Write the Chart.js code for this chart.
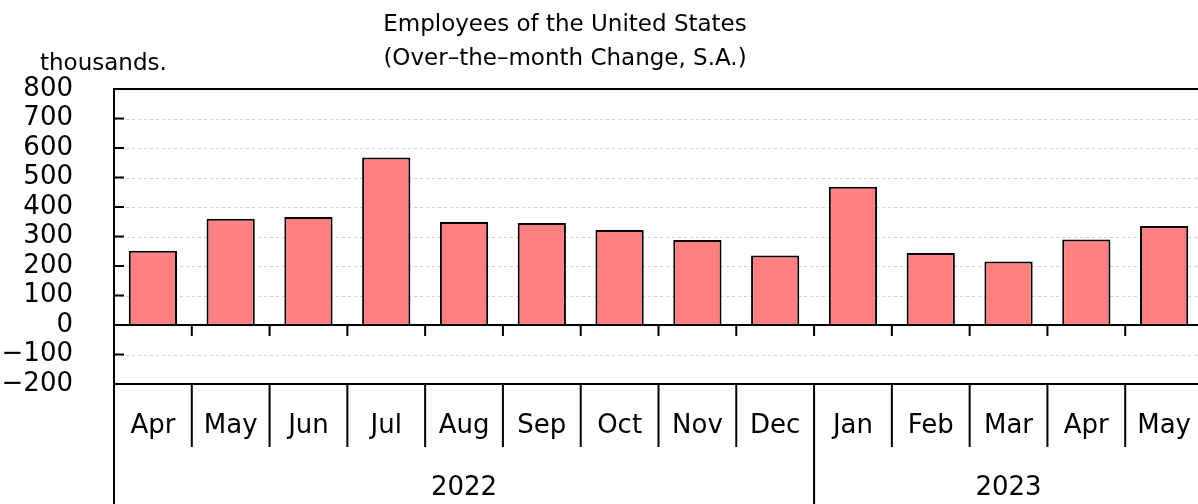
<!DOCTYPE html>
<html>
<head>
<meta charset="utf-8">
<script src="https://cdn.jsdelivr.net/npm/chart.js@4/dist/chart.umd.min.js"></script>
<style>
html,body{margin:0;padding:0;background:#fff;overflow:hidden;}
#wrap{width:1204px;height:504px;position:relative;}
</style>
</head>
<body>
<div id="wrap"><canvas id="c"></canvas></div>
<script>
const months = ["Apr","May","Jun","Jul","Aug","Sep","Oct","Nov","Dec","Jan","Feb","Mar","Apr","May"];
const years = ["2022","2022","2022","2022","2022","2022","2022","2022","2022","2023","2023","2023","2023","2023"];
const changes = [252, 360, 366, 568, 349, 346, 322, 288, 236, 469, 244, 215, 290, 336];
const yTicks = [-200, -100, 0, 100, 200, 300, 400, 500, 600, 700, 800];
const titleLines = ["Employees of the United States", "(Over\u2013the\u2013month Change, S.A.)"];
const unitLabel = "thousands.";

const FONT = '"DejaVu Sans", sans-serif';

const decor = {
  id: 'decor',
  beforeDatasetsDraw(chart) {
    const {ctx, chartArea: a, scales: {y}} = chart;
    ctx.save();
    ctx.strokeStyle = '#cfcfcf';
    ctx.lineWidth = 1;
    ctx.setLineDash([3, 3]);
    yTicks.forEach(v => {
      if (v === 0 || v === yTicks[0] || v === yTicks[yTicks.length - 1]) return;
      const py = Math.round(y.getPixelForValue(v)) + 0.5;
      ctx.beginPath(); ctx.moveTo(a.left, py); ctx.lineTo(a.right, py); ctx.stroke();
    });
    ctx.restore();
  },
  afterDatasetsDraw(chart) {
    const {ctx, chartArea: a, scales: {x, y}} = chart;
    const H = chart.height;
    ctx.save();
    ctx.strokeStyle = '#000';
    ctx.lineWidth = 2;
    ctx.setLineDash([]);
    // zero line
    const y0 = y.getPixelForValue(0);
    ctx.beginPath(); ctx.moveTo(a.left, y0); ctx.lineTo(a.right + 2, y0); ctx.stroke();
    // frame
    ctx.beginPath();
    ctx.moveTo(a.left, H); ctx.lineTo(a.left, a.top); ctx.lineTo(a.right + 2, a.top);
    ctx.moveTo(a.left, a.bottom); ctx.lineTo(a.right + 2, a.bottom);
    ctx.moveTo(a.right, a.top); ctx.lineTo(a.right, a.bottom);
    ctx.stroke();
    // y inner ticks
    yTicks.forEach(v => {
      if (v === yTicks[0] || v === yTicks[yTicks.length - 1]) return;
      const py = y.getPixelForValue(v);
      ctx.beginPath(); ctx.moveTo(a.left, py); ctx.lineTo(a.left + 10, py); ctx.stroke();
    });
    // category boundaries
    for (let i = 0; i < months.length - 1; i++) {
      const bx = (x.getPixelForValue(i) + x.getPixelForValue(i + 1)) / 2;
      ctx.beginPath(); ctx.moveTo(bx, y0); ctx.lineTo(bx, y0 + 11); ctx.stroke();
      const yearBreak = years[i] !== years[i + 1];
      ctx.beginPath(); ctx.moveTo(bx, a.bottom); ctx.lineTo(bx, yearBreak ? H : a.bottom + 63); ctx.stroke();
    }
    ctx.fillStyle = '#000';
    ctx.textAlign = 'center';
    ctx.textBaseline = 'middle';
    // month labels
    ctx.font = '26px ' + FONT;
    months.forEach((m, i) => ctx.fillText(m, x.getPixelForValue(i), 426));
    // year labels
    let start = 0;
    for (let i = 1; i <= years.length; i++) {
      if (i === years.length || years[i] !== years[start]) {
        const l = start === 0 ? a.left : (x.getPixelForValue(start - 1) + x.getPixelForValue(start)) / 2;
        const r = i === years.length ? a.right : (x.getPixelForValue(i - 1) + x.getPixelForValue(i)) / 2;
        ctx.fillText(years[start], (l + r) / 2, 488);
        start = i;
      }
    }
    // titles
    ctx.textBaseline = 'alphabetic';
    ctx.font = '23px ' + FONT;
    ctx.fillText(titleLines[0], 565, 31);
    ctx.fillText(titleLines[1], 565, 65);
    ctx.textAlign = 'left';
    ctx.font = '23px ' + FONT;
    ctx.fillText(unitLabel, 40, 70);
    ctx.restore();
  }
};

new Chart(document.getElementById('c'), {
  type: 'bar',
  data: {
    labels: months,
    datasets: [{
      data: changes,
      backgroundColor: '#ff8080',
      borderColor: '#000',
      borderWidth: 2,
      barPercentage: 0.62,
      categoryPercentage: 1.0
    }]
  },
  options: {
    responsive: true,
    maintainAspectRatio: false,
    animation: false,
    layout: { padding: { top: 89, right: 1, left: 0, bottom: 0 } },
    plugins: { legend: { display: false }, tooltip: { enabled: false }, title: { display: false } },
    scales: {
      x: {
        grid: { display: false, drawTicks: false },
        border: { display: false },
        ticks: { display: false },
        afterFit(s) { s.height = 120; }
      },
      y: {
        min: -200, max: 800,
        afterBuildTicks(s) { s.ticks = yTicks.map(v => ({ value: v })); },
        grid: { display: false, drawTicks: false },
        border: { display: false },
        ticks: {
          color: '#000', font: { family: FONT, size: 26 }, padding: 41, autoSkip: false,
          callback: v => (v < 0 ? '\u2212' + Math.abs(v) : String(v))
        },
        afterFit(s) { s.width = 114; }
      }
    }
  },
  plugins: [decor]
});
</script>
</body>
</html>
